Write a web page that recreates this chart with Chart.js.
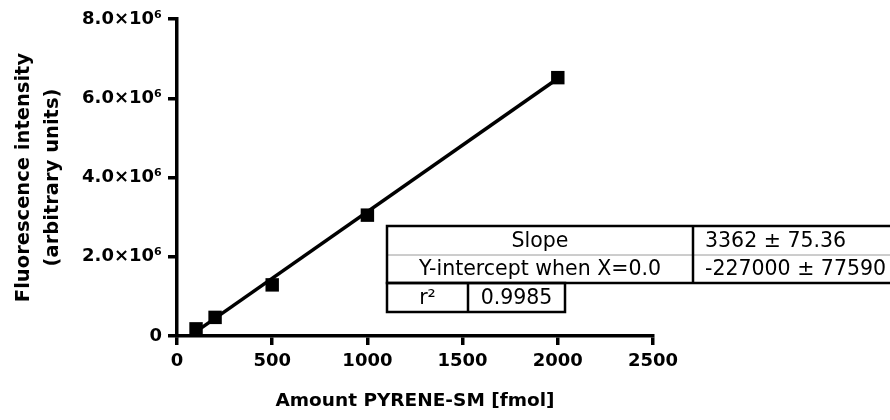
<!DOCTYPE html>
<html>
<head>
<meta charset="utf-8">
<script src="https://cdn.jsdelivr.net/npm/chart.js@4/dist/chart.umd.min.js"></script>
<style>
  html, body { margin: 0; padding: 0; background: #fff; }
  #c { display: block; }
</style>
</head>
<body>
<canvas id="c" width="890" height="420"></canvas>
<script>
// ---- data ----
const amounts = [100, 200, 500, 1000, 2000];                       // fmol
const intensities = [180000, 470000, 1290000, 3050000, 6520000];   // a.u.
const fitX = [100, 2000];
const fitY = [109200, 6497000];
const xTickValues = [0, 500, 1000, 1500, 2000, 2500];
const xTickLabels = ['0', '500', '1000', '1500', '2000', '2500'];
const yTickValues = [0, 2000000, 4000000, 6000000, 8000000];
const yTickLabels = ['0', '2.0×10⁶', '4.0×10⁶', '6.0×10⁶', '8.0×10⁶'];
const xTitle = 'Amount PYRENE-SM [fmol]';
const yTitle = ['Fluorescence intensity', '(arbitrary units)'];
const tableRows = [['Slope', '3362 ± 75.36'], ['Y-intercept when X=0.0', '-227000 ± 77590']];
const r2Row = ['r²', '0.9985'];

const FONT = '"DejaVu Sans", "Liberation Sans", Arial, sans-serif';

const tablePlugin = {
  id: 'fitTable',
  afterDraw(chart) {
    const ctx = chart.ctx;
    ctx.save();
    const x0 = 387, y0 = 226, rowH = 28.5, colX = 693, right = 892;
    ctx.fillStyle = '#fff';
    ctx.fillRect(x0, y0, right - x0, rowH * 2);
    ctx.fillRect(x0, y0 + rowH * 2, 178, 29);
    ctx.strokeStyle = '#9a9a9a';
    ctx.lineWidth = 1;
    ctx.beginPath();
    ctx.moveTo(x0, y0 + rowH + 0.5); ctx.lineTo(right, y0 + rowH + 0.5);
    ctx.stroke();
    ctx.strokeStyle = '#000';
    ctx.lineWidth = 2.5;
    ctx.strokeRect(x0, y0, right + 5 - x0, rowH * 2);
    ctx.beginPath();
    ctx.moveTo(colX, y0); ctx.lineTo(colX, y0 + rowH * 2);
    ctx.stroke();
    const ry = y0 + rowH * 2, rh = 29, rx1 = 468, rx2 = 565;
    ctx.strokeRect(x0, ry, rx2 - x0, rh);
    ctx.beginPath();
    ctx.moveTo(rx1, ry); ctx.lineTo(rx1, ry + rh);
    ctx.stroke();
    ctx.fillStyle = '#000';
    ctx.font = '20.5px ' + FONT;
    ctx.textBaseline = 'middle';
    tableRows.forEach((r, i) => {
      const cy = y0 + rowH * i + rowH / 2 + 1;
      ctx.textAlign = 'center';
      ctx.fillText(r[0], (x0 + colX) / 2, cy);
      ctx.textAlign = 'left';
      ctx.fillText(r[1], 705, cy);
    });
    ctx.textAlign = 'center';
    ctx.fillText(r2Row[0], (x0 + rx1) / 2, ry + rh / 2 + 1);
    ctx.fillText(r2Row[1], (rx1 + rx2) / 2, ry + rh / 2 + 1);
    ctx.restore();
  }
};

new Chart(document.getElementById('c'), {
  type: 'scatter',
  data: {
    datasets: [
      {
        label: 'fit',
        data: fitX.map((x, i) => ({ x, y: fitY[i] })),
        showLine: true,
        borderColor: '#000',
        borderWidth: 3.5,
        pointRadius: 0,
        fill: false,
        order: 2
      },
      {
        label: 'data',
        data: amounts.map((x, i) => ({ x, y: intensities[i] })),
        showLine: false,
        pointStyle: 'rect',
        pointRadius: 9.5,
        backgroundColor: '#000',
        borderColor: '#000',
        borderWidth: 0,
        order: 1
      }
    ]
  },
  options: {
    responsive: false,
    animation: false,
    layout: { padding: { left: 0, top: 19, right: 237, bottom: 0 } },
    plugins: { legend: { display: false }, tooltip: { enabled: false } },
    scales: {
      x: {
        type: 'linear',
        min: 0, max: 2500,
        afterBuildTicks: (s) => { s.ticks = xTickValues.map(v => ({ value: v })); },
        afterFit: (s) => { s.height = 84; },
        border: { display: true, color: '#000', width: 3.5 },
        grid: { display: true, drawOnChartArea: false, drawTicks: true, tickLength: 9, color: '#000', lineWidth: 3.5 },
        ticks: {
          color: '#000', padding: 6, maxRotation: 0,
          font: { family: FONT, size: 18, weight: 'bold' },
          callback: (v) => { const i = xTickValues.indexOf(v); return i >= 0 ? xTickLabels[i] : ''; }
        },
        title: { display: true, text: xTitle, color: '#000', padding: { top: 0, bottom: 8 }, font: { family: FONT, size: 18.5, weight: 'bold' } }
      },
      y: {
        type: 'linear',
        min: 0, max: 8000000,
        afterBuildTicks: (s) => { s.ticks = yTickValues.map(v => ({ value: v })); },
        afterFit: (s) => { s.width = 177; },
        border: { display: true, color: '#000', width: 3.5 },
        grid: { display: true, drawOnChartArea: false, drawTicks: true, tickLength: 9, color: '#000', lineWidth: 3.5 },
        ticks: {
          color: '#000', padding: 6,
          font: { family: FONT, size: 18, weight: 'bold' },
          callback: (v) => { const i = yTickValues.indexOf(v); return i >= 0 ? yTickLabels[i] : ''; }
        },
        title: { display: true, text: yTitle, color: '#000', padding: { top: 9, bottom: 0 }, font: { family: FONT, size: 19.5, weight: 'bold', lineHeight: 1.5 } }
      }
    }
  },
  plugins: [tablePlugin]
});
</script>
</body>
</html>
